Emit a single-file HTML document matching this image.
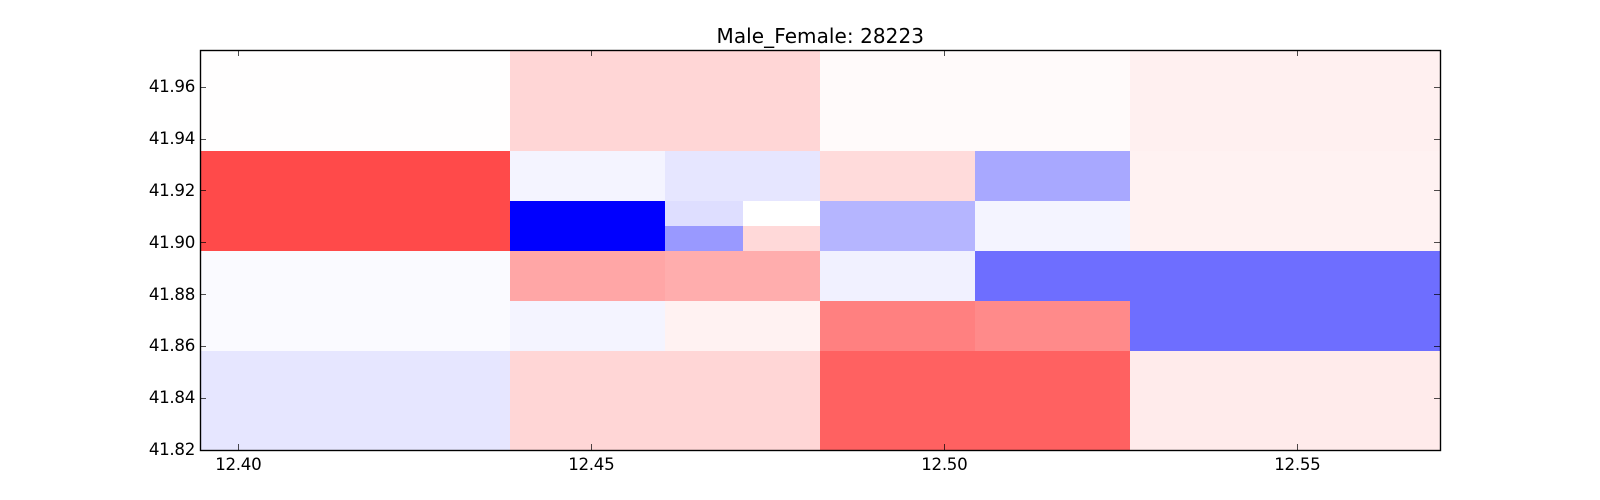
<!DOCTYPE html>
<html>
<head>
<meta charset="utf-8">
<style>
html,body{margin:0;padding:0;background:#fff;width:1600px;height:500px;overflow:hidden}
svg{display:block}
text{font-family:"DejaVu Sans","Liberation Sans",sans-serif;fill:#000}
</style>
</head>
<body>
<svg id="chart" xmlns="http://www.w3.org/2000/svg" width="1600" height="500" viewBox="0 0 1600 500">
  <rect x="0" y="0" width="1600" height="500" fill="#ffffff"></rect>
  <g id="cells"></g>
  <g id="ticks"></g>
  <rect x="200.5" y="50.5" width="1240" height="400" fill="none" stroke="#000" stroke-width="1.39"></rect>
  <g id="labels"></g>
  <text x="820.3" y="43" font-size="20" text-anchor="middle" style="letter-spacing:0.06px">Male_Female: 28223</text>
</svg>
<script>
var xTicks = [12.40, 12.45, 12.50, 12.55];
var xTickLabels = ["12.40", "12.45", "12.50", "12.55"];
var yTicks = [41.82, 41.84, 41.86, 41.88, 41.90, 41.92, 41.94, 41.96];
var yTickLabels = ["41.82", "41.84", "41.86", "41.88", "41.90", "41.92", "41.94", "41.96"];
var xDomain = [12.39462, 12.57025];
var yDomain = [41.82004, 41.97436];

/* Cell bounds in longitude / latitude, and signed value (-1 blue .. +1 red) */
var cellLonMin = [12.39462,12.43853,12.48244,12.52635, 12.39462,12.43853,12.46048,12.48244,12.50439,12.52635, 12.43853,12.46048,12.47146,12.46048,12.47146,12.48244,12.50439, 12.39462,12.43853,12.46048,12.48244,12.50439,12.52635, 12.43853,12.46048,12.48244,12.50439, 12.39462,12.43853,12.48244,12.52635];
var cellLonMax = [12.43853,12.48244,12.52635,12.57025, 12.43853,12.46048,12.48244,12.50439,12.52635,12.57025, 12.46048,12.47146,12.48244,12.47146,12.48244,12.50439,12.52635, 12.43853,12.46048,12.48244,12.50439,12.57025,12.57025, 12.46048,12.48244,12.50439,12.52635, 12.43853,12.48244,12.52635,12.57025];
var cellLatMin = [41.93539,41.93539,41.93539,41.93539, 41.89681,41.91610,41.91610,41.91610,41.91610,41.89681, 41.89681,41.90645,41.90645,41.89681,41.89681,41.89681,41.89681, 41.85823,41.87752,41.87752,41.87752,41.87752,41.85823, 41.85823,41.85823,41.85823,41.85823, 41.82004,41.82004,41.82004,41.82004];
var cellLatMax = [41.97436,41.97436,41.97436,41.97436, 41.93539,41.93539,41.93539,41.93539,41.93539,41.93539, 41.91610,41.91610,41.91610,41.90645,41.90645,41.91610,41.91610, 41.89681,41.89681,41.89681,41.89681,41.89681,41.89681, 41.87752,41.87752,41.87752,41.87752, 41.85823,41.85823,41.85823,41.85823];
var cellValues = [
  0.004, 0.16, 0.02, 0.06,
  0.71, -0.045, -0.10, 0.14, -0.34, 0.05,
  -1.0, -0.13, 0.0, -0.40, 0.15, -0.29, -0.045,
  -0.02, 0.35, 0.32, -0.055, -0.57, -0.57,
  -0.045, 0.05, 0.50, 0.46,
  -0.10, 0.16, 0.62, 0.08
];

var SVGNS = "http://www.w3.org/2000/svg";
var plotLeft = 200, plotRight = 1440, plotTop = 50, plotBottom = 450;

function xScale(v) {
  return plotLeft + (v - xDomain[0]) / (xDomain[1] - xDomain[0]) * (plotRight - plotLeft);
}
function yScale(v) {
  return plotBottom - (v - yDomain[0]) / (yDomain[1] - yDomain[0]) * (plotBottom - plotTop);
}
function bwr(v) {
  var c = Math.round(255 * (1 - Math.min(1, Math.abs(v))));
  return v < 0 ? "rgb(" + c + "," + c + ",255)" : "rgb(255," + c + "," + c + ")";
}
function tickLine(x1, y1, x2, y2) {
  var l = document.createElementNS(SVGNS, "line");
  
  
  l.setAttribute("x1", x1);
  l.setAttribute("y1", y1);
  l.setAttribute("x2", x2);
  l.setAttribute("y2", y2);
  l.setAttribute("stroke", "#000");
  l.setAttribute("stroke-width", "0.7");
  document.getElementById("ticks").appendChild(l);
}

cellValues.forEach(function (v, i) {
  var x0 = Math.round(xScale(cellLonMin[i]));
  var x1 = Math.round(xScale(cellLonMax[i]));
  var y0 = Math.round(yScale(cellLatMax[i]));
  var y1 = Math.round(yScale(cellLatMin[i]));
  var r = document.createElementNS(SVGNS, "rect");
  
  
  r.setAttribute("x", x0);
  r.setAttribute("y", y0);
  r.setAttribute("width", x1 - x0);
  r.setAttribute("height", y1 - y0);
  r.setAttribute("fill", bwr(v));
  r.setAttribute("shape-rendering", "crispEdges");
  document.getElementById("cells").appendChild(r);
});

xTicks.forEach(function (v, i) {
  var x = Math.round(xScale(v)) + 0.5;
  tickLine(x, plotBottom, x, plotBottom - 6);
  tickLine(x, plotTop, x, plotTop + 6);
  var t = document.createElementNS(SVGNS, "text");
  
  
  t.setAttribute("x", xScale(v) + 0.3);
  t.setAttribute("y", 470);
  t.setAttribute("font-size", "16.67");
  t.setAttribute("text-anchor", "middle");
  t.setAttribute("style", "letter-spacing:-0.3px");
  t.textContent = xTickLabels[i];
  document.getElementById("labels").appendChild(t);
});

yTicks.forEach(function (v, i) {
  var y = Math.floor(yScale(v)) + 0.5;
  tickLine(plotLeft, y, plotLeft + 6, y);
  tickLine(plotRight, y, plotRight - 6, y);
  var t = document.createElementNS(SVGNS, "text");
  
  
  t.setAttribute("x", 195);
  t.setAttribute("y", Math.round(yScale(v) + 5));
  t.setAttribute("font-size", "16.67");
  t.setAttribute("text-anchor", "end");
  t.setAttribute("style", "letter-spacing:-0.3px");
  t.textContent = yTickLabels[i];
  document.getElementById("labels").appendChild(t);
});
</script>
</body>
</html>
